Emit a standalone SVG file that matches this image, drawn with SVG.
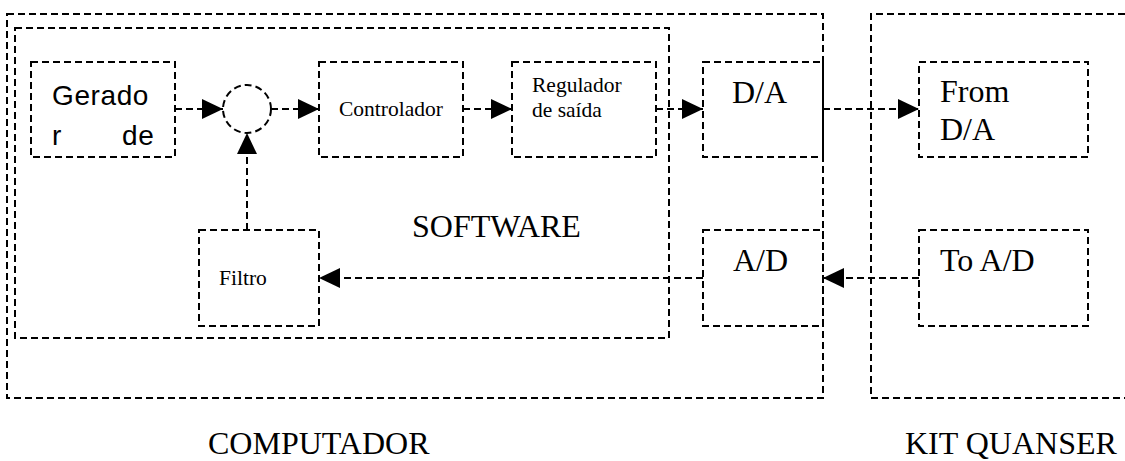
<svg xmlns="http://www.w3.org/2000/svg" width="1125" height="461" viewBox="0 0 1125 461">
<style>
.b{fill:none;stroke:#000;stroke-width:2;stroke-dasharray:7,4}
.c{fill:none;stroke:#000;stroke-width:2;stroke-dasharray:7,4}
.s{font-family:"Liberation Serif",serif;fill:#000}
.big{font-size:32px}
.sm{font-size:21.5px}
.g{font-family:"Liberation Sans",Arial,sans-serif;font-size:28px;fill:#000;letter-spacing:0.6px}
</style>
<defs>
<marker id="ah" markerUnits="userSpaceOnUse" markerWidth="22" markerHeight="20" refX="21" refY="10" orient="auto">
<path d="M0,0 L21,10 L0,20 Z" fill="#000"/>
</marker>
</defs>
<g id="computador">
<rect class="b" x="7" y="14" width="816" height="384"/>
<text class="s big" x="208" y="454">COMPUTADOR</text>
</g>
<g id="kit">
<path class="b" d="M1125,14 H871 V398 H1125"/>
<text class="s big" x="905" y="454">KIT QUANSER</text>
</g>
<g id="software">
<rect class="b" x="15" y="28" width="654" height="310"/>
<text class="s big" x="412" y="237">SOFTWARE</text>
</g>
<g id="gerador">
<rect class="b" x="31" y="62" width="144" height="95"/>
<text class="g" x="52" y="105">Gerado</text>
<text class="g" x="52" y="145">r</text>
<text class="g" x="122" y="145">de</text>
</g>
<g id="soma">
<circle class="b" cx="247" cy="109" r="24"/>
</g>
<g id="controlador">
<rect class="b" x="319" y="62" width="144" height="95"/>
<text class="s sm" x="339" y="116">Controlador</text>
</g>
<g id="regulador">
<rect class="b" x="512" y="62" width="144" height="95"/>
<text class="s sm" x="532" y="92">Regulador</text>
<text class="s sm" x="532" y="117">de saída</text>
</g>
<g id="da">
<rect class="b" x="703" y="62" width="120" height="95"/>
<text class="s big" x="732" y="103">D/A</text>
</g>
<g id="ad">
<rect class="b" x="703" y="230" width="120" height="96"/>
<text class="s big" x="733" y="271">A/D</text>
</g>
<g id="filtro">
<rect class="b" x="199" y="230" width="120" height="96"/>
<text class="s sm" x="219" y="285">Filtro</text>
</g>
<g id="fromda">
<rect class="b" x="919" y="62" width="169" height="95"/>
<text class="s big" x="940" y="102">From</text>
<text class="s big" x="940" y="140">D/A</text>
</g>
<g id="toad">
<rect class="b" x="919" y="230" width="169" height="96"/>
<text class="s big" x="940" y="271">To A/D</text>
</g>
<g id="connectors">
<path class="c" d="M175,109 H223" marker-end="url(#ah)"/>
<path class="c" d="M271,109 H319" marker-end="url(#ah)"/>
<path class="c" d="M463,109 H512" marker-end="url(#ah)"/>
<path class="c" d="M656,109 H703" marker-end="url(#ah)"/>
<path class="c" d="M823,109 H919" marker-end="url(#ah)"/>
<path class="c" d="M919,278 H823" marker-end="url(#ah)"/>
<path class="c" d="M703,278 H319" marker-end="url(#ah)"/>
<path class="c" d="M247,230 V133" marker-end="url(#ah)"/>
</g>
</svg>
